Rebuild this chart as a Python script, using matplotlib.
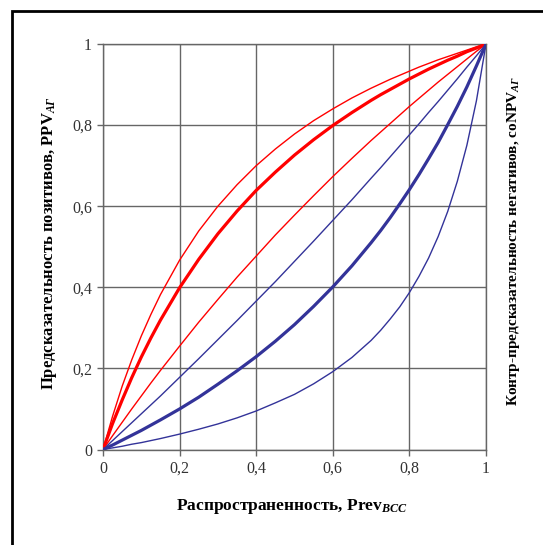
import matplotlib
matplotlib.use("Agg")
import matplotlib.pyplot as plt
from matplotlib.patches import Rectangle

plt.rcParams['font.family'] = ['Liberation Serif', 'DejaVu Serif']
plt.rcParams['mathtext.fontset'] = 'custom'
plt.rcParams['mathtext.rm'] = 'Liberation Serif'
plt.rcParams['mathtext.it'] = 'Liberation Serif:italic:bold'
plt.rcParams['mathtext.bf'] = 'Liberation Serif:bold'

# Prevalence values (x)
prev = [0, 0.025, 0.05, 0.075, 0.1, 0.125, 0.15, 0.2, 0.25, 0.3, 0.35, 0.4, 0.45, 0.5,
        0.55, 0.6, 0.65, 0.7, 0.725, 0.75, 0.775, 0.8, 0.825, 0.85, 0.875, 0.9, 0.925,
        0.95, 0.975, 1]

# PPV curves (red)
ppv_outer = [0, 0.082, 0.156, 0.221, 0.280, 0.333, 0.382, 0.467, 0.539, 0.600, 0.653, 0.700,
             0.741, 0.778, 0.811, 0.840, 0.867, 0.891, 0.902, 0.913, 0.923, 0.933, 0.943,
             0.952, 0.961, 0.969, 0.977, 0.985, 0.993, 1]
ppv_main = [0, 0.064, 0.122, 0.177, 0.228, 0.275, 0.319, 0.399, 0.469, 0.532, 0.588, 0.639,
            0.684, 0.726, 0.764, 0.799, 0.831, 0.861, 0.875, 0.888, 0.901, 0.914, 0.926,
            0.938, 0.949, 0.960, 0.970, 0.981, 0.990, 1]
ppv_inner = [0, 0.034, 0.067, 0.100, 0.132, 0.164, 0.195, 0.255, 0.314, 0.370, 0.425, 0.477,
             0.529, 0.578, 0.626, 0.673, 0.718, 0.762, 0.783, 0.804, 0.825, 0.846, 0.866,
             0.886, 0.906, 0.925, 0.944, 0.963, 0.982, 1]

# coNPV curves (blue)
conpv_upper = [0, 0.022, 0.044, 0.066, 0.088, 0.110, 0.132, 0.178, 0.224, 0.271, 0.318, 0.366,
               0.414, 0.464, 0.514, 0.565, 0.616, 0.669, 0.695, 0.722, 0.749, 0.776, 0.803,
               0.831, 0.858, 0.886, 0.914, 0.943, 0.971, 1]
conpv_main = [0, 0.011, 0.023, 0.035, 0.047, 0.060, 0.073, 0.100, 0.129, 0.161, 0.194, 0.229,
              0.267, 0.308, 0.353, 0.401, 0.453, 0.510, 0.540, 0.572, 0.606, 0.641, 0.678,
              0.717, 0.757, 0.801, 0.846, 0.894, 0.946, 1]
conpv_lower = [0, 0.004, 0.008, 0.013, 0.017, 0.022, 0.027, 0.038, 0.050, 0.063, 0.078, 0.095,
               0.115, 0.136, 0.162, 0.192, 0.227, 0.269, 0.294, 0.322, 0.352, 0.387, 0.427,
               0.472, 0.525, 0.587, 0.661, 0.750, 0.860, 1]

tick_vals = [0, 0.2, 0.4, 0.6, 0.8, 1]
tick_labels = ['0', '0,2', '0,4', '0,6', '0,8', '1']

W, H = 543, 545
fig = plt.figure(figsize=(W / 100, H / 100), dpi=100)
ax = fig.add_axes([103 / W, 1 - 449.5 / H, 383 / W, 405.5 / H])

red = '#FF0000'
blue = '#333399'
ax.plot(prev, ppv_outer, color=red, lw=1.0, zorder=3)
ax.plot(prev, ppv_inner, color=red, lw=1.0, zorder=3)
ax.plot(prev, ppv_main, color=red, lw=2.3, zorder=4)
ax.plot(prev, conpv_upper, color=blue, lw=1.0, zorder=3)
ax.plot(prev, conpv_lower, color=blue, lw=1.0, zorder=3)
ax.plot(prev, conpv_main, color=blue, lw=2.3, zorder=4)

ax.set_xlim(0, 1)
ax.set_ylim(0, 1)
ax.set_xticks(tick_vals)
ax.set_xticklabels(tick_labels)
ax.set_yticks(tick_vals)
ax.set_yticklabels(tick_labels)
ax.grid(True, color='#666666', lw=1.0)
ax.set_axisbelow(True)
for s in ax.spines.values():
    s.set_color('#666666')
    s.set_linewidth(1.0)
ax.tick_params(axis='both', length=4, width=1, color='#666666', labelsize=11.5,
               labelcolor='#333333', pad=4)

fig.text(292 / W, 1 - 507 / H, 'Распространенность, Prev$_{BCC}$',
         ha='center', va='center', fontsize=12.5, fontweight='bold')
fig.text(50 / W, 1 - 243 / H, 'Предсказательность позитивов, PPV$_{АГ}$',
         rotation=90, ha='center', va='center', fontsize=12, fontweight='bold')
fig.text(514 / W, 1 - 241 / H, 'Контр-предсказательность негативов, coNPV$_{АГ}$',
         rotation=90, ha='center', va='center', fontsize=11, fontweight='bold')

fig.patches.append(Rectangle((12 / W, -0.05), 1.1, 1 - 11 / H + 0.05, transform=fig.transFigure,
                             fill=False, edgecolor='black', lw=2))

fig.savefig('out.png', dpi=100)
